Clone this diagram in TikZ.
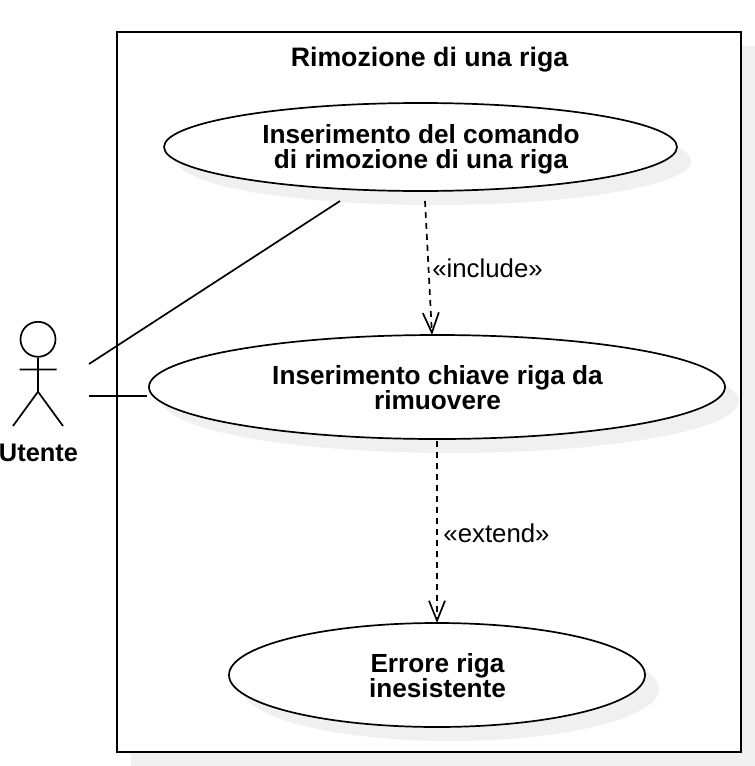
\documentclass[tikz,border=0pt]{standalone}
\usepackage{fontspec}
\setmainfont{Liberation Sans}
\usetikzlibrary{shapes.geometric,arrows.meta}
\definecolor{shadowgray}{HTML}{F0F0F0}
\tikzset{
  x=1pt,y=-1pt,
  usecase/.style={ellipse,draw=black,line width=1.7pt,fill=white,inner sep=0pt},
  casetext/.style={inner sep=0pt,align=center,font=\fontsize{26.2}{26}\selectfont\bfseries},
  caseshadow/.style={ellipse,fill=shadowgray,inner sep=0pt},
  conn/.style={line width=1.7pt,draw=black},
  dep/.style={conn,dash pattern=on 6pt off 5pt,-{Straight Barb[length=20pt,width=16pt,line width=1.7pt]}},
  lbl/.style={font=\fontsize{25.8}{26}\selectfont,inner sep=0pt},
  title/.style={font=\fontsize{26.7}{27}\selectfont\bfseries,inner sep=0pt},
}
\begin{document}
\begin{tikzpicture}
\useasboundingbox (0,0) rectangle (755,766);
\fill[shadowgray] (131,46) rectangle (755,766);
\draw[line width=1.9pt,fill=white] (117,32) rectangle (741,752);
\node[title] (systitle) at (429.5,60) {Rimozione di una riga};
% shadows
\node[caseshadow,minimum width=513pt,minimum height=88pt] at (434.5,161) {};
\node[caseshadow,minimum width=576pt,minimum height=104pt] at (451,401) {};
\node[caseshadow,minimum width=416pt,minimum height=104pt] at (451,689) {};
% use cases
\node[usecase,minimum width=513pt,minimum height=88pt] (e1) at (420.5,147) {};
\node[usecase,minimum width=576pt,minimum height=104pt] (e2) at (437,387) {};
\node[usecase,minimum width=416pt,minimum height=104pt] (e3) at (437,675) {};
\node[casetext] (t1) at (421,149.5) {Inserimento del comando\\[-1pt]di rimozione di una riga};
\node[casetext] (t2) at (437.5,388) {Inserimento chiave riga da\\[-1pt]rimuovere};
\node[casetext] (t3) at (437.5,676) {Errore riga\\[-1pt]inesistente};
% actor
\node[circle,draw=black,line width=1.7pt,minimum size=35pt,inner sep=0pt] (head) at (38,339.3) {};
\coordinate (hip) at (38,391.7);
\coordinate (armL) at (19.5,369.5);
\coordinate (armR) at (56.5,369.5);
\coordinate (footL) at (13,426);
\coordinate (footR) at (63,426);
\draw[conn] (head.south) -- (hip) (armL) -- (armR) (footL) -- (hip) -- (footR);
\node[font=\fontsize{25.4}{26}\selectfont\bfseries,inner sep=0pt] (actor) at (38.5,453) {Utente};
% connectors
\coordinate (a1) at (89,364);
\coordinate (a2) at (89,396);
\coordinate (e1a) at (340,201);
\coordinate (e2a) at (147,396);
\draw[conn] (a1) -- (e1a);
\draw[conn] (a2) -- (e2a);
\coordinate (d1s) at (425,201);
\coordinate (d2s) at (437,441);
\coordinate (d1t) at (432,335);
\coordinate (d2t) at (437,623);
\draw[dep] (d1s) -- (d1t);
\draw[dep] (d2s) -- (d2t);
\node[lbl] (inc) at (487.5,268) {«include»};
\node[lbl] (ext) at (496.5,533) {«extend»};
\end{tikzpicture}
\end{document}
